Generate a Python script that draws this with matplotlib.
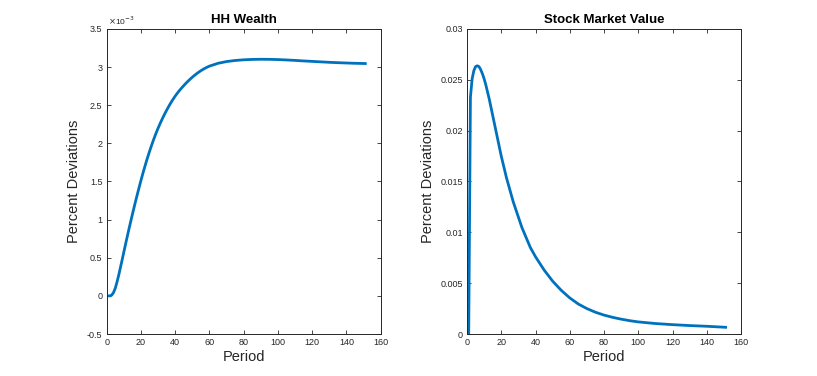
import numpy as np
import matplotlib
matplotlib.use("Agg")
import matplotlib.pyplot as plt
from matplotlib.ticker import FuncFormatter

# impulse responses (percent deviations by period)
wealth_period = list(range(1, 61)) + [65, 70, 75, 80, 85, 90, 95, 100, 105, 110,
                                      115, 120, 125, 130, 135, 140, 145, 151]
wealth_dev = [0.0, 0.0, 0.012, 0.045, 0.10, 0.18, 0.27, 0.37, 0.47, 0.575,
              0.677, 0.778, 0.877, 0.974, 1.069, 1.162, 1.253, 1.342, 1.429, 1.514,
              1.596, 1.675, 1.751, 1.824, 1.894, 1.961, 2.025, 2.086, 2.144, 2.199,
              2.251, 2.300, 2.347, 2.392, 2.435, 2.476, 2.515, 2.552, 2.587, 2.620,
              2.651, 2.680, 2.707, 2.733, 2.758, 2.782, 2.805, 2.827, 2.848, 2.868,
              2.887, 2.905, 2.922, 2.938, 2.953, 2.967, 2.980, 2.992, 3.003, 3.013,
              3.050, 3.073, 3.087, 3.096, 3.101, 3.103, 3.102, 3.099, 3.094, 3.088,
              3.081, 3.075, 3.069, 3.063, 3.058, 3.054, 3.050, 3.047]
wealth_dev = [v * 1e-3 for v in wealth_dev]

stock_period = list(range(1, 41)) + [45, 50, 55, 60, 65, 70, 75, 80, 85, 90, 95, 100,
                                     110, 120, 130, 140, 151]
stock_dev = [0.0, 0.0233, 0.0251, 0.0259, 0.0263, 0.02638, 0.0263, 0.0260, 0.0256, 0.0251,
             0.0245, 0.0238, 0.0231, 0.0223, 0.0215, 0.0207, 0.0199, 0.0191, 0.0183, 0.0175,
             0.0168, 0.0161, 0.0154, 0.0148, 0.0142, 0.0136, 0.0130, 0.0125, 0.0120, 0.0115,
             0.0110, 0.0105, 0.0101, 0.0097, 0.0093, 0.0089, 0.0085, 0.0082, 0.0079, 0.0076,
             0.0063, 0.0052, 0.0043, 0.00355, 0.00295, 0.00250, 0.00214, 0.00186, 0.00164,
             0.00146, 0.00131, 0.00119, 0.00103, 0.00092, 0.00083, 0.00076, 0.00066]

xticks = list(range(0, 161, 20))
wealth_yticks = [-0.5e-3, 0, 0.5e-3, 1e-3, 1.5e-3, 2e-3, 2.5e-3, 3e-3, 3.5e-3]
stock_yticks = [0, 0.005, 0.01, 0.015, 0.02, 0.025, 0.03]

line_color = "#0072BD"
ax_color = "#262626"

plt.rcParams["font.family"] = ["Liberation Sans", "DejaVu Sans"]

fig = plt.figure(figsize=(8.17, 3.76), dpi=100)
ax1 = fig.add_axes([0.1306, 0.1117, 0.3354, 0.8112])
ax2 = fig.add_axes([0.5716, 0.1117, 0.3354, 0.8112])


def style_axis(ax, yticks, fmt):
    ax.set_xlim(0, 160)
    ax.set_xticks(xticks)
    ax.set_ylim(yticks[0], yticks[-1])
    ax.set_yticks(yticks)
    ax.yaxis.set_major_formatter(FuncFormatter(fmt))
    ax.xaxis.set_major_formatter(FuncFormatter(lambda v, p: f"{v:g}"))
    ax.tick_params(direction="in", length=3, width=0.6, labelsize=6.5,
                   colors=ax_color, top=True, right=True, pad=3)
    for s in ax.spines.values():
        s.set_color(ax_color)
        s.set_linewidth(0.7)
    ax.set_xlabel("Period", fontsize=10.5, color=ax_color, labelpad=2)
    ax.set_ylabel("Percent Deviations", fontsize=10.5, color=ax_color, labelpad=4)


ax1.plot(wealth_period, wealth_dev, color=line_color, lw=2)
style_axis(ax1, wealth_yticks, lambda v, p: f"{round(v * 1e3, 4):g}")
ax1.set_title("HH Wealth", fontsize=9.5, fontweight="bold", pad=4)
ax1.text(0.005, 1.005, r"$\times$10$^{-3}$", transform=ax1.transAxes,
         fontsize=6, color=ax_color, ha="left", va="bottom")

ax2.plot(stock_period, stock_dev, color=line_color, lw=2)
style_axis(ax2, stock_yticks, lambda v, p: f"{round(v, 4):g}")
ax2.set_title("Stock Market Value", fontsize=9.5, fontweight="bold", pad=4)

fig.savefig("out.png", dpi=100)
